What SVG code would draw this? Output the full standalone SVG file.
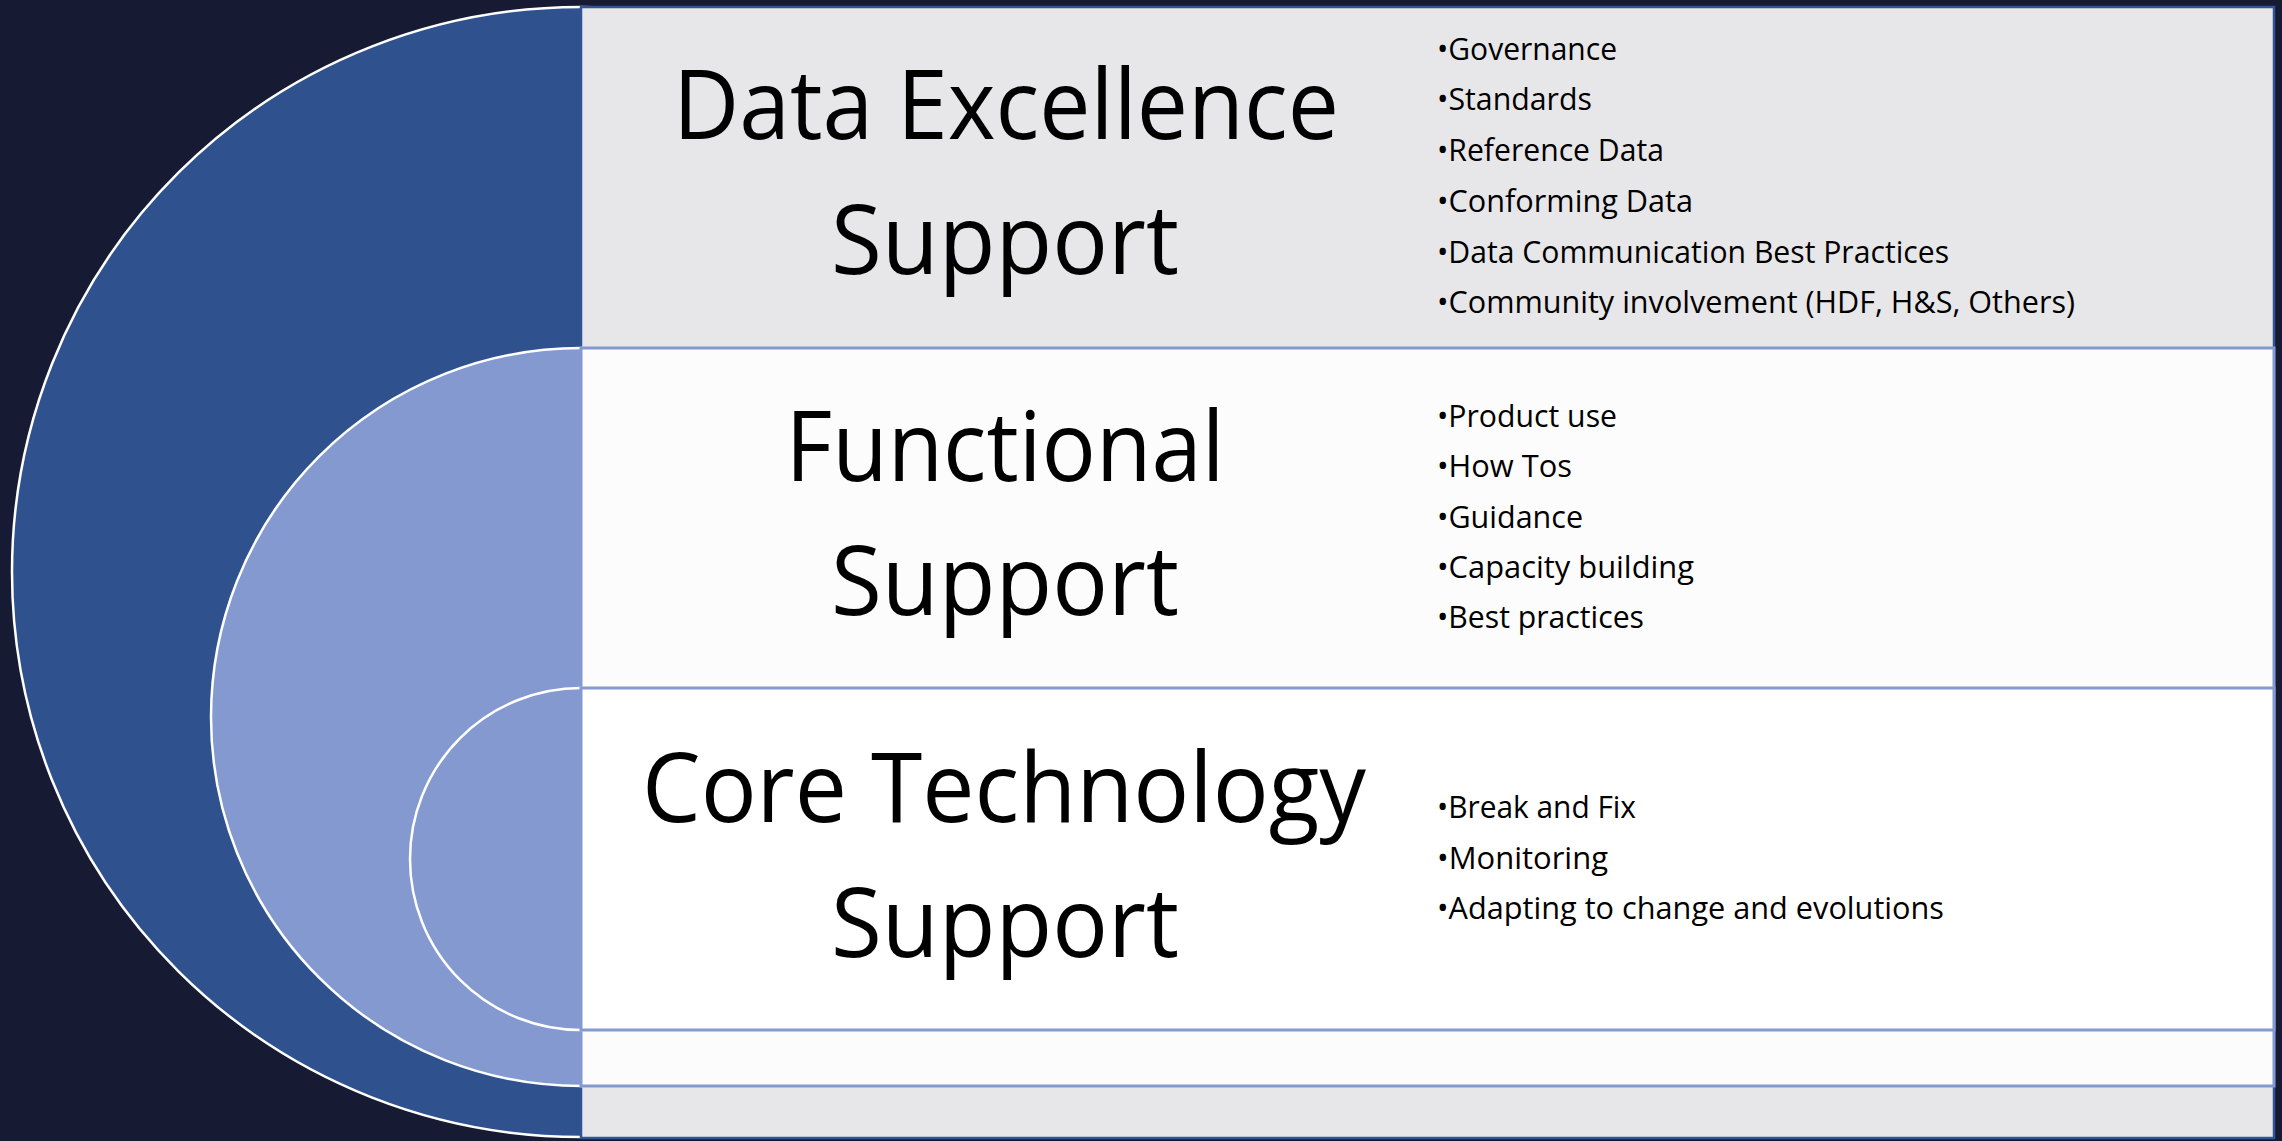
<svg xmlns="http://www.w3.org/2000/svg" width="2282" height="1141" viewBox="0 0 2282 1141">
<style>
.bg{fill:#161A33}
.arc{stroke:#FFFFFF;stroke-width:2.5}
.outer{fill:#2F528F}
.light{fill:#8399CF}
.panel1{fill:#E7E7E9;stroke:#2F5597;stroke-width:2.5}
.panel2{fill:#FCFCFC;stroke:#8399CF;stroke-width:3}
.panel3{fill:#FFFFFF;stroke:#8399CF;stroke-width:3}
.title{font-family:"Open Sans","Noto Sans","DejaVu Sans",sans-serif;font-size:97px;fill:#000000;text-anchor:middle}
.item{font-family:"Open Sans","Noto Sans","DejaVu Sans",sans-serif;font-size:31.5px;fill:#000000}
</style>
<rect class="bg" x="0" y="0" width="2282" height="1141"/>
<g id="node-data-excellence">
<ellipse class="outer arc" cx="581" cy="572" rx="569" ry="565"/>
<rect class="panel1" x="581" y="7" width="1693" height="1131"/>
<text class="title" x="1006" y="139" textLength="666" lengthAdjust="spacingAndGlyphs">Data Excellence</text>
<text class="title" x="1005" y="274" textLength="348" lengthAdjust="spacingAndGlyphs">Support</text>
<text class="item" x="1437" y="60" textLength="180" lengthAdjust="spacingAndGlyphs">•Governance</text>
<text class="item" x="1437" y="110" textLength="155" lengthAdjust="spacingAndGlyphs">•Standards</text>
<text class="item" x="1437" y="161" textLength="227" lengthAdjust="spacingAndGlyphs">•Reference Data</text>
<text class="item" x="1437" y="212" textLength="256" lengthAdjust="spacingAndGlyphs">•Conforming Data</text>
<text class="item" x="1437" y="263" textLength="512" lengthAdjust="spacingAndGlyphs">•Data Communication Best Practices</text>
<text class="item" x="1437" y="313" textLength="638" lengthAdjust="spacingAndGlyphs">•Community involvement (HDF, H&amp;S, Others)</text>
</g>
<g id="node-functional">
<ellipse class="light arc" cx="581" cy="717" rx="370" ry="369"/>
<rect class="panel2" x="581" y="348" width="1693" height="738"/>
<text class="title" x="1005" y="481" textLength="439" lengthAdjust="spacingAndGlyphs">Functional</text>
<text class="title" x="1005" y="615" textLength="348" lengthAdjust="spacingAndGlyphs">Support</text>
<text class="item" x="1437" y="427" textLength="180" lengthAdjust="spacingAndGlyphs">•Product use</text>
<text class="item" x="1437" y="477" textLength="135" lengthAdjust="spacingAndGlyphs">•How Tos</text>
<text class="item" x="1437" y="528" textLength="146" lengthAdjust="spacingAndGlyphs">•Guidance</text>
<text class="item" x="1437" y="578" textLength="257" lengthAdjust="spacingAndGlyphs">•Capacity building</text>
<text class="item" x="1437" y="628" textLength="207" lengthAdjust="spacingAndGlyphs">•Best practices</text>
</g>
<g id="node-core-technology">
<ellipse class="light arc" cx="581" cy="859" rx="171" ry="171"/>
<rect class="panel3" x="581" y="688" width="1693" height="342"/>
<text class="title" x="1004" y="822" textLength="724" lengthAdjust="spacingAndGlyphs">Core Technology</text>
<text class="title" x="1005" y="957" textLength="348" lengthAdjust="spacingAndGlyphs">Support</text>
<text class="item" x="1437" y="818" textLength="199" lengthAdjust="spacingAndGlyphs">•Break and Fix</text>
<text class="item" x="1437" y="869" textLength="171" lengthAdjust="spacingAndGlyphs">•Monitoring</text>
<text class="item" x="1437" y="919" textLength="507" lengthAdjust="spacingAndGlyphs">•Adapting to change and evolutions</text>
</g>
<g id="connectors"></g>
</svg>
